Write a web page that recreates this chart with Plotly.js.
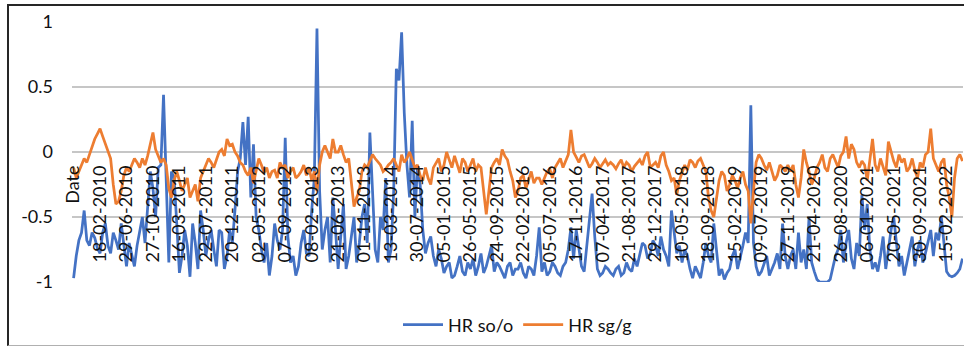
<!DOCTYPE html>
<html><head><meta charset="utf-8">
<script src="https://cdn.plot.ly/plotly-3.0.1.min.js"></script>
<style>
html,body{margin:0;padding:0;background:#fff;}
#wrap{position:relative;width:964px;height:347px;overflow:hidden;}
#chart{position:absolute;left:0;top:0;width:964px;height:347px;}
#frame{position:absolute;left:7px;top:4px;width:970px;height:339px;border-top:2px solid #262626;border-left:2px solid #262626;border-bottom:1px solid #b0b0b0;pointer-events:none;}
</style></head>
<body><div id="wrap"><div id="chart"></div><div id="frame"></div></div>
<script>
// Category labels shown on the x axis (every label step)
const tickLabels = ["Date","18-02-2010","29-06-2010","27-10-2010","16-03-2011","22-07-2011",
  "20-12-2011","02-05-2012","07-09-2012","08-02-2013","21-06-2013","01-11-2013","13-03-2014",
  "30-07-2014","05-01-2015","26-05-2015","24-09-2015","22-02-2016","05-07-2016","17-11-2016",
  "07-04-2017","21-08-2017","29-12-2017","10-05-2018","18-09-2018","15-02-2019","09-07-2019",
  "27-11-2019","21-04-2020","26-08-2020","06-01-2021","20-05-2021","30-09-2021","15-02-2022"];

// Samples read per label step
const samplesPerLabel = 10;

// HR so/o (blue)
const hrSoO = [
 -0.97,-0.8,-0.68,-0.62,-0.45,-0.68,-0.72,-0.62,-0.66,-0.74,
 -0.78,-0.62,-0.55,-0.72,-0.78,-0.62,-0.68,-0.75,-0.55,-0.72,
 -0.88,-0.7,-0.8,-0.88,-0.72,-0.62,-0.5,-0.7,-0.4,-0.15,
 -0.28,-0.5,-0.12,-0.1,0.44,-0.3,-0.85,-0.15,-0.2,-0.55,
 -0.93,-0.8,-0.6,-0.72,-0.96,-0.55,-0.7,-0.9,-0.45,-0.6,
 -0.8,-0.68,-0.6,-0.75,-0.88,-0.6,-0.62,-0.9,-0.8,-0.6,
 -0.7,-0.45,-0.15,-0.05,0.23,-0.1,0.27,-0.35,0.06,-0.5,
 -0.6,-0.75,-0.85,-0.7,-0.95,-0.8,-0.55,-0.68,-0.75,-0.6,
 0.11,-0.65,-0.85,-0.8,-0.95,-0.88,-0.7,-0.6,-0.78,-0.8,
 -0.45,-0.2,0.95,-0.3,-0.75,-0.6,-0.5,-0.85,-0.35,-0.6,
 -0.9,-0.65,-0.4,-0.9,-0.8,-0.65,-0.5,-0.85,-0.7,-0.5,
 -0.4,-0.7,0.15,-0.3,-0.75,-0.85,-0.5,-0.6,-0.2,-0.85,
 -0.75,-0.3,0.64,0.55,0.92,0.3,-0.1,-0.35,0.24,-0.5,
 -0.1,-0.25,-0.6,-0.78,-0.7,-0.65,-0.8,-0.88,-0.75,-0.82,
 -0.93,-0.88,-0.85,-0.97,-0.95,-0.88,-0.8,-0.92,-0.95,-0.85,
 -0.9,-0.82,-0.95,-0.88,-0.78,-0.93,-0.88,-0.8,-0.72,-0.92,
 -0.85,-0.88,-0.93,-0.97,-0.88,-0.85,-0.95,-0.9,-0.9,-0.85,
 -0.93,-0.97,-0.88,-0.9,-0.95,-0.8,-0.58,-0.92,-0.85,-0.95,
 -0.92,-0.85,-0.88,-0.93,-0.95,-0.88,-0.85,-0.75,-0.58,-0.82,
 -0.6,-0.75,-0.88,-0.92,-0.7,-0.5,-0.32,-0.65,-0.9,-0.95,
 -0.93,-0.88,-0.9,-0.93,-0.95,-0.9,-0.88,-0.95,-0.93,-0.85,
 -0.9,-0.92,-0.82,-0.88,-0.78,-0.7,-0.72,-0.82,-0.78,-0.68,
 -0.72,-0.8,-0.65,-0.75,-0.8,-0.88,-0.45,-0.6,-0.78,-0.72,
 -0.85,-0.75,-0.8,-0.9,-0.97,-0.88,-0.92,-0.97,-0.85,-0.7,
 -0.8,-0.85,-0.55,-0.75,-0.95,-0.9,-0.98,-0.93,-0.9,-0.8,
 -0.75,-0.9,-0.82,-0.72,-0.62,-0.7,0.36,-0.7,-0.88,-0.95,
 -0.92,-0.85,-0.8,-0.95,-0.9,-0.85,-0.78,-0.9,-0.55,-0.8,
 -0.9,-0.8,-0.75,-0.9,-0.62,-0.85,-0.75,-0.9,-0.5,-0.85,
 -0.92,-0.98,-1.0,-1.0,-1.0,-1.0,-0.98,-0.9,-0.8,-0.75,
 -0.6,-0.85,-0.7,-0.6,-0.82,-0.9,-0.7,-0.8,-0.33,-0.6,
 -0.4,-0.75,-0.9,-0.85,-0.92,-0.8,-0.65,-0.9,-0.75,-0.6,
 -0.5,-0.7,-0.88,-0.8,-0.95,-0.85,-0.75,-0.65,-0.88,-0.75,
 -0.68,-0.85,-0.78,-0.7,-0.6,-0.8,-0.62,-0.68,-0.5,-0.7,
 -0.92,-0.95,-0.96,-0.95,-0.93,-0.9,-0.82
];

// HR sg/g (orange)
const hrSgG = [
 -0.12,-0.2,-0.15,-0.1,-0.05,-0.08,-0.02,0.05,0.1,0.14,
 0.18,0.12,0.06,0.0,-0.05,-0.25,-0.4,-0.38,-0.3,-0.18,
 -0.12,-0.15,-0.1,-0.05,-0.08,-0.12,-0.05,-0.1,-0.03,0.05,
 0.15,0.02,-0.03,-0.08,-0.05,-0.1,-0.28,-0.35,-0.22,-0.15,
 -0.22,-0.3,-0.25,-0.2,-0.35,-0.3,-0.25,-0.38,-0.2,-0.15,
 -0.1,-0.05,-0.08,-0.12,-0.06,0.0,0.02,-0.03,0.1,0.05,
 0.06,0.0,-0.03,-0.08,-0.1,-0.15,-0.18,-0.12,-0.24,-0.15,
 -0.05,-0.1,-0.16,-0.12,-0.2,-0.15,-0.14,-0.2,-0.08,-0.12,
 -0.1,-0.2,-0.15,-0.12,-0.2,-0.18,-0.15,-0.1,-0.18,-0.12,
 -0.22,-0.15,-0.3,-0.1,0.0,0.05,0.0,-0.05,0.1,0.0,
 0.0,0.05,-0.02,-0.08,-0.05,-0.25,-0.42,-0.35,-0.3,-0.15,
 -0.1,-0.12,-0.07,-0.02,-0.05,-0.08,-0.1,-0.15,-0.13,-0.1,
 -0.08,-0.05,-0.1,-0.15,-0.02,-0.08,-0.05,0.0,-0.06,-0.12,
 -0.1,-0.18,-0.22,-0.12,-0.2,-0.25,-0.12,-0.08,-0.05,-0.15,
 -0.1,0.0,-0.06,-0.12,-0.03,-0.1,-0.16,-0.05,-0.08,-0.15,
 -0.1,-0.05,-0.15,-0.1,-0.12,-0.3,-0.48,-0.3,-0.12,-0.08,
 -0.05,-0.1,0.02,-0.03,-0.06,-0.15,-0.22,-0.35,-0.3,-0.2,
 -0.18,-0.28,-0.22,-0.15,-0.24,-0.2,-0.2,-0.25,-0.2,-0.15,
 -0.13,-0.2,-0.12,-0.08,-0.05,-0.12,-0.07,-0.02,0.17,0.0,
 -0.04,-0.08,-0.03,-0.02,-0.07,-0.12,-0.09,-0.05,-0.08,-0.12,
 -0.09,-0.06,-0.1,-0.08,-0.1,-0.13,-0.09,-0.06,-0.12,-0.08,
 -0.1,-0.15,-0.11,-0.08,-0.06,-0.1,-0.03,0.0,-0.12,-0.1,
 -0.08,-0.12,-0.03,0.0,-0.1,-0.15,-0.22,-0.2,-0.33,-0.22,
 -0.15,-0.1,-0.14,-0.06,-0.08,-0.12,-0.07,-0.05,-0.1,-0.15,
 -0.35,-0.45,-0.5,-0.35,-0.22,-0.15,-0.18,-0.3,-0.25,-0.18,
 -0.22,-0.28,-0.2,-0.15,-0.25,-0.3,-0.55,-0.3,-0.08,-0.02,
 -0.05,-0.1,-0.14,-0.08,-0.15,-0.22,-0.18,-0.1,-0.12,-0.15,
 -0.1,-0.15,-0.1,-0.25,-0.35,-0.2,0.02,-0.08,-0.15,-0.25,
 -0.2,-0.12,-0.08,-0.02,-0.12,-0.15,-0.05,-0.02,-0.07,-0.12,
 -0.03,0.0,0.12,-0.05,0.06,0.02,-0.08,-0.12,-0.07,-0.1,
 -0.22,-0.05,0.1,-0.1,-0.15,-0.05,-0.12,-0.18,0.08,0.0,
 -0.07,-0.12,-0.02,-0.08,-0.05,-0.15,-0.12,-0.05,-0.14,-0.2,
 -0.08,-0.12,-0.02,0.0,0.18,-0.05,-0.1,-0.15,-0.08,-0.05,
 -0.25,-0.35,-0.5,-0.2,-0.05,-0.02,-0.07
];

const yTicks = [-1, -0.5, 0, 0.5, 1];
const yTickText = ["-1", "-0.5", "0", "0.5", "1"];

const pos = arr => arr.map((_, i) => i / samplesPerLabel);
const tickPos = tickLabels.map((_, i) => i);

const FONT = 'Lato, "Open Sans", sans-serif';

const traces = [
  {type:'scatter', mode:'lines', name:'HR so/o', x:pos(hrSoO), y:hrSoO,
   line:{color:'#4472C4', width:2.75}},
  {type:'scatter', mode:'lines', name:'HR sg/g', x:pos(hrSgG), y:hrSgG,
   line:{color:'#ED7D31', width:2.75}}
];

const layout = {
  width:964, height:347,
  margin:{l:72, r:1, t:22, b:65, pad:0},
  paper_bgcolor:'#fff', plot_bgcolor:'#fff',
  font:{family:FONT, size:18, color:'#111'},
  showlegend:true,
  legend:{orientation:'h', x:0.5, xanchor:'center', y:-0.165, yanchor:'middle',
          font:{family:FONT, size:18, color:'#111'}, bgcolor:'rgba(0,0,0,0)',
          itemwidth:40},
  xaxis:{range:[-0.06, 33.62], anchor:'free', position:0.5,
         tickmode:'array', tickvals:tickPos, ticktext:tickLabels, tickangle:-90,
         showgrid:false, zeroline:false, showline:false, ticks:'',
         tickfont:{family:FONT, size:18, color:'#111'}, ticklabelstandoff:9},
  yaxis:{range:[-1, 1], tickmode:'array', tickvals:yTicks, ticktext:yTickText,
         showgrid:true, gridcolor:'#c6c6c6', gridwidth:1.5, zeroline:false,
         showline:false, ticks:'', tickfont:{family:FONT, size:18, color:'#111'},
         ticklabelstandoff:18}
};

Plotly.newPlot('chart', traces, layout, {displayModeBar:false, staticPlot:true});
</script>
</body></html>
